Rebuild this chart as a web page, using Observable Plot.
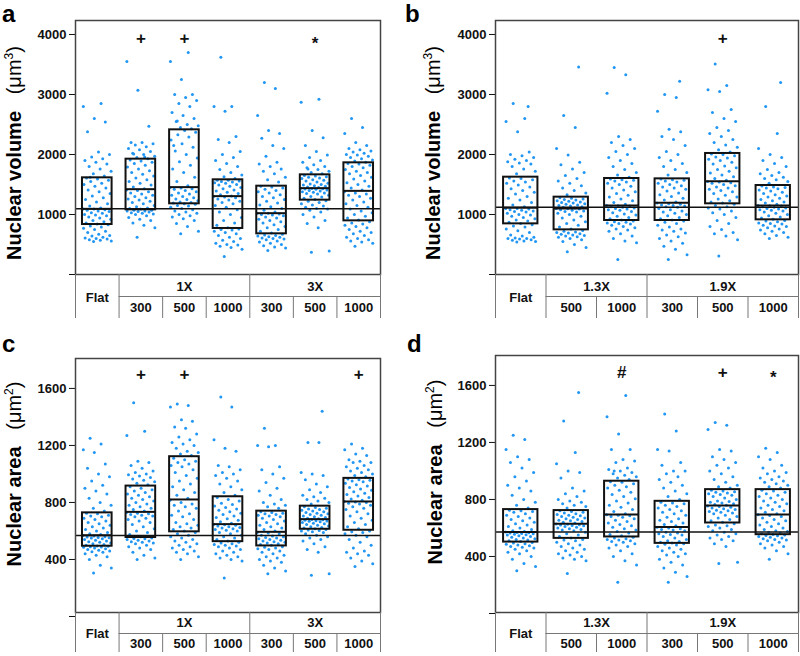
<!DOCTYPE html>
<html><head><meta charset="utf-8">
<script src="https://cdn.jsdelivr.net/npm/d3@7"></script>
<script src="https://cdn.jsdelivr.net/npm/@observablehq/plot@0.6"></script>
<style>
body{margin:0;background:#fff;}
#root{position:relative;width:800px;height:656px;overflow:hidden;background:#fff;font-family:Arial,'Liberation Sans',sans-serif;}
.pan{position:absolute;}
.let{position:absolute;font-size:24px;font-weight:bold;line-height:24px;color:#000;}
.ylab{position:absolute;width:300px;height:24px;line-height:24px;text-align:center;white-space:nowrap;transform:rotate(-90deg);color:#000;font-size:20px;}
.ylab b{font-weight:bold;}
.ylab span{font-weight:normal;}
.ylab sup{font-size:12px;vertical-align:top;line-height:12px;position:relative;top:1px;}
</style></head>
<body><div id="root"></div>
<script>
// ---------- Panel a: nuclear volume (µm³) ----------
const aGroups = ["Flat","300","500","1000","300","500","1000"];
const aSupers = [{label:"1X",from:1,to:4},{label:"3X",from:4,to:7}];
const aFlat = [550,560,570,580,590,600,610,620,640,650,670,700,720,750,770,790,810,830,840,860,880,900,920,940,960,980,990,1000,1020,1030,1050,1060,1070,1080,1090,1090,1110,1140,1180,1210,1250,1280,1310,1350,1380,1410,1440,1470,1500,1520,1550,1570,1590,1610,1640,1680,1720,1760,1800,1840,1870,1900,1930,1960,2000,2040,2380,2540,2600,2800,2850,1620];
const a1x300 = [620,780,820,860,900,920,950,980,1000,1010,1020,1030,1040,1050,1060,1060,1070,1070,1090,1100,1110,1130,1150,1180,1200,1220,1240,1260,1280,1300,1320,1340,1360,1380,1400,1410,1430,1460,1490,1520,1550,1580,1610,1640,1670,1700,1730,1760,1790,1820,1850,1870,1890,1910,1930,1950,1970,2000,2020,2050,2080,2100,2130,2160,2180,2200,2200,2470,3070,3550,1960,2010];
const a1x500 = [680,720,800,850,900,930,960,980,1000,1020,1040,1060,1080,1100,1120,1140,1150,1170,1180,1190,1200,1210,1230,1250,1260,1280,1300,1320,1340,1360,1380,1400,1420,1430,1440,1450,1480,1550,1620,1700,1760,1820,1880,1940,2000,2060,2120,2180,2240,2290,2330,2370,2400,2150,2430,2450,2480,2500,2550,2600,2650,2700,2800,2850,2900,2950,3000,3000,3250,3550,3700,2560];
const a1x1000 = [300,420,450,470,490,500,520,550,570,600,620,650,680,700,720,740,750,760,780,820,860,900,950,1000,1040,1080,1120,1150,1180,1200,1220,1240,1260,1280,1290,1300,1310,1330,1350,1370,1390,1410,1430,1450,1470,1490,1500,1520,1530,1540,1550,1560,1570,1570,1600,1630,1660,1700,1750,1800,1850,1900,1950,2000,2050,2200,2250,2300,2720,2800,2800,3620];
const a3x300 = [400,440,460,480,500,520,540,560,580,590,600,610,620,630,640,650,660,670,690,720,750,780,800,830,860,880,900,920,940,960,980,990,1000,1010,1020,1020,1040,1070,1100,1130,1160,1190,1220,1250,1280,1300,1330,1360,1380,1400,1420,1440,1460,1470,1540,1580,1620,1680,1720,1760,1800,1840,1870,1970,2100,2150,2270,2350,2400,2650,3100,3200];
const a3x500 = [370,390,780,850,900,960,1000,1040,1070,1090,1100,1120,1140,1160,1180,1200,1220,1230,1250,1270,1290,1300,1320,1340,1350,1360,1370,1380,1390,1400,1410,1420,1425,1430,1435,1438,1450,1460,1470,1480,1490,1500,1510,1520,1540,1560,1570,1580,1600,1610,1620,1630,1640,1650,1680,1700,1720,1750,1780,1800,1830,1870,1900,1950,1990,2050,2150,2280,2400,2870,2920,1760];
const a3x1000 = [470,520,540,560,580,600,620,650,680,700,720,750,780,800,820,840,860,880,910,940,970,1000,1030,1060,1090,1120,1150,1180,1210,1240,1270,1300,1320,1340,1360,1380,1410,1440,1470,1500,1530,1560,1590,1620,1650,1680,1700,1720,1750,1780,1800,1820,1840,1850,1870,1890,1910,1930,1950,1970,1990,2000,2020,2040,2060,2080,2100,2150,2200,2350,2450,2600];
const aQ1 = [833,1078,1178,767,678,1239,894];
const aMed = [1094,1422,1456,1306,1022,1439,1394];
const aQ3 = [1611,1922,2411,1578,1472,1661,1861];
const aRef = 1094;
const aMarks = [{g:1,s:"+"},{g:2,s:"+"},{g:5,s:"*"}];
const aMarkY = 3933;
const aTicks = [0,1000,2000,3000,4000];

// ---------- Panel b: nuclear volume (µm³) ----------
const bGroups = ["Flat","500","1000","300","500","1000"];
const bSupers = [{label:"1.3X",from:1,to:3},{label:"1.9X",from:3,to:6}];
const bFlat = [540,550,560,570,580,590,600,600,610,620,640,660,700,730,760,790,810,830,850,870,890,910,930,950,970,990,1000,1020,1040,1050,1060,1070,1080,1090,1100,1100,1130,1160,1200,1240,1270,1300,1340,1370,1400,1430,1460,1490,1520,1540,1560,1580,1600,1610,2800,1680,1720,1760,1800,1840,1860,1880,1900,1920,1950,1980,2000,2040,2380,2550,2600,2850];
const b13x500 = [380,450,500,550,580,600,620,630,640,650,660,670,680,690,700,710,720,735,760,790,820,850,880,910,940,970,1000,1020,1040,1050,1060,1070,1080,1090,1095,1100,1110,1120,1130,1140,1150,1160,1170,1180,1190,1200,1210,1220,1230,1240,1250,1260,1270,1280,3460,1330,1360,1400,1440,1480,1520,1560,1600,1650,1700,1760,1830,1870,1990,2100,2450,2650];
const b13x1000 = [250,530,560,600,640,680,720,740,760,780,800,820,840,850,860,870,880,890,910,930,950,970,990,1010,1030,1050,1070,1080,1090,1100,1110,1120,1130,1140,1145,1150,1170,1200,1230,1260,1290,1320,1350,1380,1410,1440,1470,1500,1520,1540,1560,1570,1580,1590,1620,1660,1700,1750,1800,1850,1900,1950,2000,2050,2100,2150,2200,2250,2300,3020,3330,3450];
const b19x300 = [250,330,420,470,520,560,600,630,660,690,720,740,760,790,820,850,870,890,910,930,950,980,1000,1020,1040,1060,1080,1100,1120,1130,1140,1150,1160,1170,1180,1190,1210,1240,1270,1300,1330,1360,1390,1420,1440,1460,1480,1500,1520,1540,1560,1570,1580,1590,3220,1660,1700,1750,1800,1850,1900,1950,2000,2050,2150,2250,2300,2380,2420,2720,2950,3000];
const b19x500 = [310,580,640,680,700,750,800,850,900,950,1000,1030,1060,1090,1110,1130,1150,1170,1190,1210,1230,1260,1290,1320,1350,1380,1400,1420,1440,1460,1480,1500,1520,1530,1540,1550,1570,1600,1630,1660,1690,1720,1750,1780,1810,1840,1870,1900,1920,1940,1960,1980,2000,2010,2040,2080,2120,2160,2200,2250,2300,2350,2400,2450,2550,2600,2700,2750,3050,3080,3150,3510];
const b19x1000 = [600,620,650,680,700,720,740,760,780,800,810,820,840,850,860,880,890,900,920,940,960,980,1000,1020,1040,1060,1070,1080,1090,1100,1110,1120,1130,1140,1145,1150,1170,1190,1210,1230,1250,1270,1290,1310,1330,1350,1370,1390,1410,1430,1440,1450,1460,1475,3200,1520,1550,1580,1600,1620,1650,1680,1700,1750,1800,1850,1900,1950,2000,2100,2350,2800];
const bQ1 = [844,744,900,900,1178,911];
const bMed = [1111,1100,1150,1194,1556,1150];
const bQ3 = [1622,1289,1600,1594,2017,1483];
const bRef = 1122;
const bMarks = [{g:4,s:"+"}];
const bMarkY = 3933;
const bTicks = [0,1000,2000,3000,4000];

// ---------- Panel c: nuclear area (µm²) ----------
const cGroups = aGroups;
const cSupers = aSupers;
const cFlat = [305,340,360,400,420,430,440,450,455,460,465,470,475,480,485,488,490,492,495,500,505,510,515,520,525,530,535,540,545,550,552,555,558,560,565,568,575,580,590,600,610,620,630,640,650,660,670,680,690,700,705,710,720,725,740,760,780,800,830,860,880,900,920,950,980,1000,1040,1070,1150,1170,1210,1250];
const c1x300 = [400,410,430,450,470,480,490,500,510,515,520,525,530,535,540,545,548,550,560,575,590,600,615,630,645,660,670,680,690,700,705,710,715,720,725,730,740,750,760,770,780,790,800,810,820,830,840,850,860,870,880,890,900,910,925,935,945,955,965,975,985,995,1000,1010,1020,1040,1060,1080,1090,1270,1300,1500];
const c1x500 = [400,420,440,450,460,470,480,490,500,510,520,530,540,550,560,570,580,590,600,610,620,630,640,650,660,680,700,710,720,740,760,770,780,790,800,815,830,850,870,890,910,930,950,970,990,1010,1030,1050,1060,1070,1080,1090,1100,1110,1130,1140,1150,1160,1180,1200,1210,1220,1240,1260,1280,1320,1330,1370,1380,1470,1480,1490];
const c1x1000 = [270,390,400,410,420,430,440,450,460,470,480,490,495,500,505,510,515,520,530,540,550,560,570,580,590,600,605,610,615,620,625,630,635,640,643,646,655,665,675,685,695,705,715,725,735,745,755,765,775,785,795,810,820,835,850,870,890,910,930,950,970,990,1000,1010,1030,1050,1060,1160,1180,1240,1470,1540];
const c3x300 = [300,320,340,360,380,390,400,410,420,430,440,450,460,470,475,480,485,490,500,505,510,515,520,525,530,535,540,545,550,555,560,565,570,580,585,590,600,610,620,630,640,650,660,670,680,690,700,705,710,715,720,725,730,735,760,770,780,790,800,820,850,880,900,940,970,1000,1030,1050,1190,1200,1200,1320];
const c3x500 = [290,300,450,470,490,510,530,540,550,560,570,580,590,595,600,603,606,610,615,620,625,630,635,640,645,650,655,660,665,668,670,672,675,678,680,682,686,690,695,700,705,710,715,720,725,730,735,740,745,750,755,760,765,770,1440,790,800,810,820,830,840,850,870,890,910,930,960,990,1000,1010,1220,1220];
const c3x1000 = [350,370,390,410,430,440,450,460,480,500,520,540,560,570,580,590,595,600,615,630,645,660,675,690,705,720,735,750,760,770,780,790,795,800,803,806,815,825,835,845,855,865,875,885,895,905,915,925,935,945,950,955,960,965,980,990,1000,1010,1020,1030,1040,1050,1060,1080,1080,1090,1100,1130,1140,1170,1180,1210];
const cQ1 = [493,554,594,525,495,612,605];
const cMed = [570,734,821,648,594,683,807];
const cQ3 = [727,915,1121,840,739,774,969];
const cRef = 569;
const cMarks = [{g:1,s:"+"},{g:2,s:"+"},{g:6,s:"+"}];
const cMarkY = 1698;
const cTicks = [0,400,800,1200,1600];

// ---------- Panel d: nuclear area (µm²) ----------
const dGroups = bGroups;
const dSupers = bSupers;
const dFlat = [300,330,350,380,400,420,430,440,450,460,465,470,475,480,485,490,495,498,505,510,515,520,525,530,535,540,545,550,553,556,559,562,565,567,569,571,575,580,590,600,610,620,630,640,650,660,670,680,690,700,710,715,720,725,740,760,780,800,830,860,880,900,930,960,990,1020,1060,1080,1100,1150,1220,1250];
const d13x500 = [280,370,380,390,400,410,420,430,440,450,460,470,480,490,500,510,515,520,530,540,550,560,570,580,585,590,595,600,605,610,615,618,620,623,626,628,635,640,645,650,655,660,665,670,675,680,685,690,695,700,705,710,715,720,1550,740,750,760,770,780,790,800,820,840,860,880,950,990,1000,1050,1130,1350];
const d13x1000 = [220,340,370,400,420,440,460,470,480,490,500,505,510,515,520,525,530,535,545,555,565,575,585,595,605,615,625,635,645,655,665,675,680,685,690,692,700,715,730,745,760,775,790,805,820,835,850,865,880,890,900,910,920,925,940,950,960,970,980,990,1000,1010,1020,1060,1070,1080,1150,1150,1260,1380,1530,1000];
const d19x300 = [220,260,290,320,340,360,380,400,410,420,430,440,450,460,470,480,485,490,495,500,505,510,520,530,540,550,555,560,565,570,580,585,590,595,600,605,615,625,635,645,655,665,675,690,700,710,720,730,740,750,760,770,775,780,800,820,840,860,880,900,920,940,960,980,1000,1000,1040,1060,1140,1150,1280,1400];
const d19x500 = [350,360,470,490,510,520,530,540,550,560,570,580,590,600,610,615,620,630,640,650,660,670,680,690,700,705,710,715,720,725,730,735,740,745,750,755,760,765,770,775,780,785,790,800,810,820,830,835,840,845,850,855,860,865,880,890,900,920,940,960,980,1000,1020,1040,1060,1080,1100,1140,1150,1290,1320,1340];
const d19x1000 = [380,420,440,460,470,480,490,500,510,515,520,525,530,535,540,545,548,551,555,560,565,570,575,580,590,600,610,620,630,640,650,660,670,680,688,692,700,710,720,730,740,750,760,770,780,790,800,810,820,830,840,850,860,865,880,890,900,910,920,930,940,950,960,980,990,1000,1020,1040,1080,1100,1130,1160];
const dQ1 = [501,527,537,492,635,553];
const dMed = [572,630,694,607,757,694];
const dQ3 = [729,722,928,787,869,869];
const dRef = 572;
const dMarks = [{g:2,s:"#"},{g:4,s:"+"},{g:5,s:"*"}];
const dMarkY = 1690;
const dTicks = [0,400,800,1200,1600];

// ---------- drawing ----------
const FONT = "Arial, 'Liberation Sans', sans-serif";
const BLUE = "#2196f3";
const jit = i => ((i * 0.6180339887 + 0.37) % 1) - 0.5;
const root = document.getElementById("root");

function drawPanel(cfg) {
  const n = cfg.groups.length;
  const [d0, d1] = cfg.yDomain;
  const innerH = cfg.height - cfg.marginTop - cfg.marginBottom;
  const below = px => d0 - px * (d1 - d0) / innerH;
  const pts = cfg.values.flatMap((vals, g) => vals.map((v, i) => ({g, v, i})));
  const boxes = cfg.groups.map((name, g) => ({g, q1: cfg.q1[g], med: cfg.med[g], q3: cfg.q3[g]}));
  const hw = 0.34;
  const fullV = [0, 1, ...cfg.supers.map(s => s.to)];
  const subV = cfg.supers.flatMap(s => d3.range(s.from + 1, s.to));
  const subLabels = cfg.groups.map((t, g) => ({t, g})).filter(d => d.g > 0);
  const yBot = below(cfg.tab.r2), yMid = below(cfg.tab.r1);
  const markNoStar = cfg.marks.filter(m => m.s !== "*");
  const markStar = cfg.marks.filter(m => m.s === "*");
  const plot = Plot.plot({
    width: 400, height: cfg.height,
    marginLeft: cfg.marginLeft, marginRight: cfg.marginRight,
    marginTop: cfg.marginTop, marginBottom: cfg.marginBottom,
    style: {fontFamily: FONT, fontSize: "13px", fontWeight: "bold", color: "#111", background: "transparent", overflow: "visible"},
    x: {domain: [0, n], axis: null},
    y: {domain: cfg.yDomain, ticks: cfg.ticks, tickFormat: d => d === 0 ? "" : String(d), tickSize: 6, tickPadding: 3, label: null},
    marks: [
      Plot.dot(pts, {x: d => d.g + 0.5 + jit(d.i) * cfg.spread, y: "v", r: 1.5, fill: BLUE}),
      Plot.ruleY([cfg.ref], {stroke: "#111", strokeWidth: 1.5}),
      Plot.rect(boxes, {x1: d => d.g + 0.5 - hw, x2: d => d.g + 0.5 + hw, y1: "q1", y2: "q3", fill: "none", stroke: "#111", strokeWidth: 2}),
      Plot.ruleY(boxes, {y: "med", x1: d => d.g + 0.5 - hw, x2: d => d.g + 0.5 + hw, stroke: "#111", strokeWidth: 2}),
      Plot.frame({stroke: "#444", strokeWidth: 1.5}),
      Plot.text(markNoStar, {x: d => d.g + 0.5, y: () => cfg.markY, text: "s", fontSize: 17, fontWeight: "bold", fill: "#111"}),
      Plot.text(markStar, {x: d => d.g + 0.5, y: () => cfg.markY, text: "s", fontSize: 17, fontWeight: "bold", fill: "#111", dy: 5}),
      // table below the frame
      Plot.ruleX(fullV, {x: d => d, y1: () => d0, y2: () => yBot, stroke: "#777", strokeWidth: 1}),
      Plot.ruleX(subV, {x: d => d, y1: () => yMid, y2: () => yBot, stroke: "#777", strokeWidth: 1}),
      Plot.ruleY([yMid], {y: d => d, x1: () => 1, x2: () => n, stroke: "#777", strokeWidth: 1}),
      Plot.text(["Flat"], {x: () => 0.5, y: () => below(cfg.tab.lf), text: d => d, fontSize: 13, fontWeight: "bold", fill: "#111"}),
      Plot.text(cfg.supers, {x: d => (d.from + d.to) / 2, y: () => below(cfg.tab.l1), text: "label", fontSize: 13, fontWeight: "bold", fill: "#111"}),
      Plot.text(subLabels, {x: d => d.g + 0.5, y: () => below(cfg.tab.l2), text: "t", fontSize: 13, fontWeight: "bold", fill: "#111"})
    ]
  });
  const div = document.createElement("div");
  div.className = "pan";
  div.style.left = cfg.left + "px";
  div.style.top = cfg.top + "px";
  div.appendChild(plot);
  root.appendChild(div);

  const let_ = document.createElement("div");
  let_.className = "let";
  let_.textContent = cfg.letter;
  let_.style.left = cfg.letterX + "px";
  let_.style.top = cfg.letterY + "px";
  root.appendChild(let_);

  const lab = document.createElement("div");
  lab.className = "ylab";
  lab.innerHTML = "<b>" + cfg.label1 + "</b>&nbsp;&nbsp;&nbsp;<span>(\u03bcm<sup>" + cfg.unitPow + "</sup>)</span>";
  lab.style.left = (cfg.labX - 150) + "px";
  lab.style.top = (cfg.labY - 12) + "px";
  root.appendChild(lab);
}

const tabAB = {r1: 22, r2: 44, l1: 12, l2: 33, lf: 23};
const tabCD = {r1: 21, r2: 40, l1: 10, l2: 31, lf: 21};

drawPanel({letter: "a", letterX: 2, letterY: 1.5, left: 0, top: 0, height: 326,
  marginLeft: 75, marginRight: 20, marginTop: 20, marginBottom: 52, yDomain: [0, 4233], ticks: aTicks,
  groups: aGroups, supers: aSupers, values: [aFlat, a1x300, a1x500, a1x1000, a3x300, a3x500, a3x1000],
  q1: aQ1, med: aMed, q3: aQ3, ref: aRef, marks: aMarks, markY: aMarkY, spread: 0.66, tab: tabAB,
  label1: "Nuclear volume", unitPow: "3", labX: 14, labY: 153});

drawPanel({letter: "b", letterX: 405, letterY: 1.5, left: 400, top: 0, height: 326,
  marginLeft: 95, marginRight: 2, marginTop: 20, marginBottom: 52, yDomain: [0, 4233], ticks: bTicks,
  groups: bGroups, supers: bSupers, values: [bFlat, b13x500, b13x1000, b19x300, b19x500, b19x1000],
  q1: bQ1, med: bMed, q3: bQ3, ref: bRef, marks: bMarks, markY: bMarkY, spread: 0.6, tab: tabAB,
  label1: "Nuclear volume", unitPow: "3", labX: 433, labY: 153});

drawPanel({letter: "c", letterX: 2, letterY: 332, left: 0, top: 326, height: 330,
  marginLeft: 75, marginRight: 20, marginTop: 32, marginBottom: 44, yDomain: [28, 1810], ticks: cTicks,
  groups: cGroups, supers: cSupers, values: [cFlat, c1x300, c1x500, c1x1000, c3x300, c3x500, c3x1000],
  q1: cQ1, med: cMed, q3: cQ3, ref: cRef, marks: cMarks, markY: cMarkY, spread: 0.66, tab: tabCD,
  label1: "Nuclear area", unitPow: "2", labX: 14, labY: 474});

drawPanel({letter: "d", letterX: 407, letterY: 332, left: 400, top: 326, height: 330,
  marginLeft: 95, marginRight: 2, marginTop: 29, marginBottom: 44, yDomain: [7, 1810], ticks: dTicks,
  groups: dGroups, supers: dSupers, values: [dFlat, d13x500, d13x1000, d19x300, d19x500, d19x1000],
  q1: dQ1, med: dMed, q3: dQ3, ref: dRef, marks: dMarks, markY: dMarkY, spread: 0.6, tab: tabCD,
  label1: "Nuclear area", unitPow: "2", labX: 435, labY: 472});
</script>
</body></html>
